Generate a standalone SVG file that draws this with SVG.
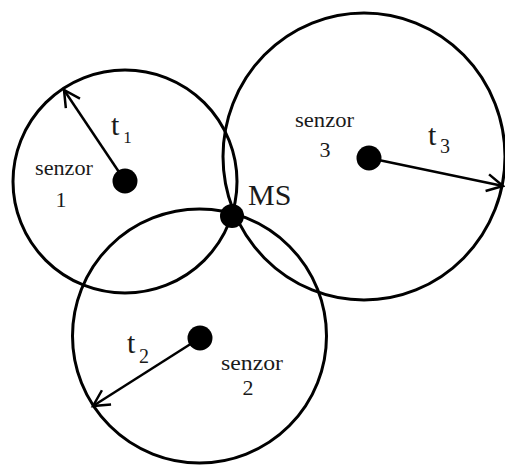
<svg xmlns="http://www.w3.org/2000/svg" width="505" height="465" viewBox="0 0 505 465">
  <style>
    .range { fill: none; stroke: #000; stroke-width: 3; }
    .dot { fill: #000; }
    .arrow { fill: none; stroke: #000; stroke-width: 2.5; marker-end: url(#open); }
    text { font-family: "Liberation Serif", "Times New Roman", serif; fill: #1a1a1a; }
    .small { font-size: 22px; }
    .big { font-size: 30px; }
    .sub { font-size: 20px; }
  </style>
  <defs>
    <marker id="open" markerUnits="userSpaceOnUse" viewBox="-20 -12 24 24" refX="0" refY="0" markerWidth="24" markerHeight="24" orient="auto">
      <path d="M-16,-8.5 L0,0 L-16,8.5" fill="none" stroke="#000" stroke-width="2.5"/>
    </marker>
  </defs>
  <rect width="505" height="465" fill="#fff"/>

  <g id="sensor1">
    <ellipse class="range" cx="125" cy="181.5" rx="112" ry="111.5"/>
    <circle class="dot" cx="125" cy="181" r="12.5"/>
    <text class="small" x="35" y="175" textLength="58" lengthAdjust="spacingAndGlyphs">senzor</text>
    <text class="small" x="61" y="207" text-anchor="middle">1</text>
  </g>

  <g id="sensor3">
    <ellipse class="range" cx="364" cy="156.5" rx="141" ry="143.5"/>
    <circle class="dot" cx="369" cy="158" r="12.5"/>
    <text class="small" x="295" y="127" textLength="59" lengthAdjust="spacingAndGlyphs">senzor</text>
    <text class="small" x="325" y="157" text-anchor="middle">3</text>
  </g>

  <g id="sensor2">
    <circle class="range" cx="199.5" cy="336" r="127"/>
    <circle class="dot" cx="200" cy="338" r="12.5"/>
    <text class="small" x="221" y="370" textLength="62" lengthAdjust="spacingAndGlyphs">senzor</text>
    <text class="small" x="248" y="395" text-anchor="middle">2</text>
  </g>

  <g id="connectors">
    <line class="arrow" x1="125" y1="181" x2="64" y2="90"/>
    <line class="arrow" x1="200" y1="338" x2="93" y2="406"/>
    <line class="arrow" x1="369" y1="158" x2="503" y2="186"/>
    <text class="big" x="111" y="135">t</text>
    <text class="sub" x="127.5" y="143" text-anchor="middle" style="font-size:17px">1</text>
    <text class="big" x="127" y="353">t</text>
    <text class="sub" x="144" y="363" text-anchor="middle">2</text>
    <text class="big" x="428" y="145">t</text>
    <text class="sub" x="445" y="153" text-anchor="middle">3</text>
  </g>

  <g id="ms">
    <circle class="dot" cx="232" cy="216" r="12"/>
    <text class="big" x="248" y="205">MS</text>
  </g>
</svg>
